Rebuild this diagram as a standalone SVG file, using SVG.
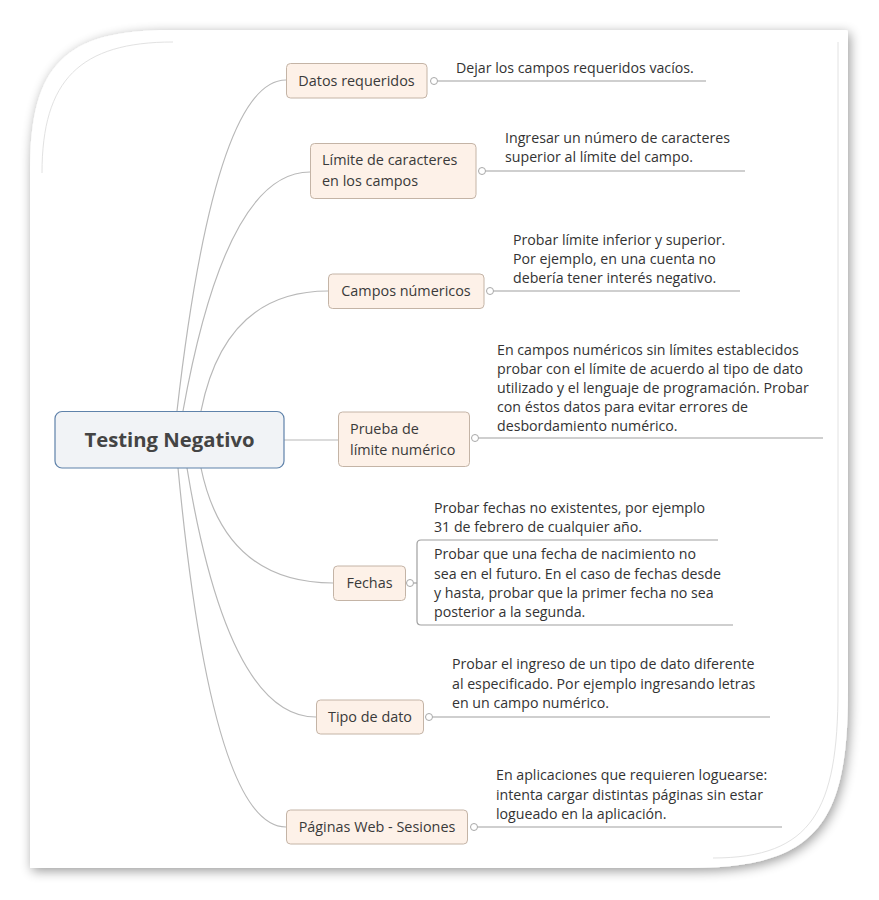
<svg xmlns="http://www.w3.org/2000/svg" width="879" height="900" viewBox="0 0 879 900">
<style>
.t{font-family:"Open Sans","Noto Sans","DejaVu Sans",sans-serif;font-size:14.2px;fill:#333}
.bt{font-family:"Open Sans","Noto Sans","DejaVu Sans",sans-serif;font-size:14.4px;fill:#3a3a3a}
.root{font-family:"Open Sans","Noto Sans","DejaVu Sans",sans-serif;font-size:20.3px;font-weight:bold;fill:#444}
.box{fill:#fdf1e8;stroke:#c4b4a6;stroke-width:1}
.curve{fill:none;stroke:#b8b8b8;stroke-width:1.2}
.uline{fill:none;stroke:#a0a0a0;stroke-width:1.2}
.dot{fill:#fff;stroke:#a8a8a8;stroke-width:1}
.inner{fill:none;stroke:#e2e2e2;stroke-width:1}
</style>
<defs>
<filter id="sh" x="-10%" y="-10%" width="120%" height="120%">
<feGaussianBlur in="SourceAlpha" stdDeviation="6"/>
<feOffset dx="2" dy="3" result="b"/>
<feComponentTransfer><feFuncA type="linear" slope="0.4"/></feComponentTransfer>
<feMerge><feMergeNode/><feMergeNode in="SourceGraphic"/></feMerge>
</filter>
</defs>
<rect width="879" height="900" fill="#fff"/>
<g id="frame">
<path d="M30,170 C30,65 65,30 170,30 L846,30 Q848,30 848,32 L848,690 C848,820 820,868 690,868 L30,868 Z" fill="#fff" filter="url(#sh)"/>
<path class="inner" d="M42,173 C42,80 80,42 173,42"/>
<path class="inner" d="M838,42 L838,690 C838,810 812,858 713,858"/>
</g>
<g id="connectors">
<path class="curve" d="M177,411 Q215,80 286,80"/>
<path class="curve" d="M183,411 Q226,172 310,172"/>
<path class="curve" d="M201,411 Q225,291 328,291"/>
<path class="curve" d="M284,440 L338,440"/>
<path class="curve" d="M201,468 Q225,583 333,583"/>
<path class="curve" d="M187,468 Q228,717 316,717"/>
<path class="curve" d="M178,468 Q212,827 286,827"/>
<path class="uline" d="M437.5,81 L706,81"/>
<path class="uline" d="M485.5,171 L745,171"/>
<path class="uline" d="M493.5,291 L740,291"/>
<path class="uline" d="M478.5,438 L823,438"/>
<path class="uline" d="M413.5,583 L417,583"/>
<path class="uline" d="M718,540 L421,540 Q417,540 417,544 L417,621 Q417,625 421,625 L733,625"/>
<path class="uline" d="M432.5,717 L770,717"/>
<path class="uline" d="M477.5,827 L782,827"/>
<circle class="dot" cx="434" cy="81" r="3.5"/>
<circle class="dot" cx="482" cy="171" r="3.5"/>
<circle class="dot" cx="490" cy="291" r="3.5"/>
<circle class="dot" cx="475" cy="438" r="3.5"/>
<circle class="dot" cx="410" cy="583" r="3.5"/>
<circle class="dot" cx="429" cy="717" r="3.5"/>
<circle class="dot" cx="474" cy="827" r="3.5"/>
</g>
<g id="root">
<rect x="55" y="411.5" width="229" height="56.5" rx="7" fill="#f1f3f6" stroke="#5f82aa" stroke-width="1.2"/>
<text class="root" x="169.5" y="447" text-anchor="middle">Testing Negativo</text>
</g>
<g id="n1">
<rect class="box" x="286.5" y="63.5" width="140.5" height="34.5" rx="4"/>
<text class="bt" x="356.5" y="86" text-anchor="middle">Datos requeridos</text>
</g>
<g id="d1">
<text class="t" x="456" y="73">Dejar los campos requeridos vacíos.</text>
</g>
<g id="n2">
<rect class="box" x="310.5" y="143.5" width="165.5" height="55" rx="4"/>
<text class="bt" x="322" y="165">Límite de caracteres</text>
<text class="bt" x="322" y="186">en los campos</text>
</g>
<g id="d2">
<text class="t" x="505" y="143">Ingresar un número de caracteres</text>
<text class="t" x="505" y="162">superior al límite del campo.</text>
</g>
<g id="n3">
<rect class="box" x="328.5" y="274" width="155.5" height="34.5" rx="4"/>
<text class="bt" x="406" y="296" text-anchor="middle">Campos númericos</text>
</g>
<g id="d3">
<text class="t" x="513" y="245">Probar límite inferior y superior.</text>
<text class="t" x="513" y="264">Por ejemplo, en una cuenta no</text>
<text class="t" x="513" y="283">debería tener interés negativo.</text>
</g>
<g id="n4">
<rect class="box" x="338.5" y="412" width="131" height="54.5" rx="4"/>
<text class="bt" x="350" y="434">Prueba de</text>
<text class="bt" x="350" y="455">límite numérico</text>
</g>
<g id="d4">
<text class="t" x="497" y="355">En campos numéricos sin límites establecidos</text>
<text class="t" x="497" y="374">probar con el límite de acuerdo al tipo de dato</text>
<text class="t" x="497" y="393">utilizado y el lenguaje de programación. Probar</text>
<text class="t" x="497" y="412">con éstos datos para evitar errores de</text>
<text class="t" x="497" y="431">desbordamiento numérico.</text>
</g>
<g id="n5">
<rect class="box" x="333.5" y="566" width="72" height="34.5" rx="4"/>
<text class="bt" x="369.5" y="588" text-anchor="middle">Fechas</text>
</g>
<g id="d5a">
<text class="t" x="434" y="513">Probar fechas no existentes, por ejemplo</text>
<text class="t" x="434" y="532">31 de febrero de cualquier año.</text>
</g>
<g id="d5b">
<text class="t" x="434" y="559">Probar que una fecha de nacimiento no</text>
<text class="t" x="434" y="579">sea en el futuro. En el caso de fechas desde</text>
<text class="t" x="434" y="598">y hasta, probar que la primer fecha no sea</text>
<text class="t" x="434" y="617">posterior a la segunda.</text>
</g>
<g id="n6">
<rect class="box" x="316.5" y="700" width="107" height="34" rx="4"/>
<text class="bt" x="370" y="722" text-anchor="middle">Tipo de dato</text>
</g>
<g id="d6">
<text class="t" x="452" y="669">Probar el ingreso de un tipo de dato diferente</text>
<text class="t" x="452" y="689">al especificado. Por ejemplo ingresando letras</text>
<text class="t" x="452" y="708">en un campo numérico.</text>
</g>
<g id="n7">
<rect class="box" x="286.5" y="810" width="181" height="34" rx="4"/>
<text class="bt" x="377" y="832" text-anchor="middle">Páginas Web - Sesiones</text>
</g>
<g id="d7">
<text class="t" x="496" y="780">En aplicaciones que requieren loguearse:</text>
<text class="t" x="496" y="800">intenta cargar distintas páginas sin estar</text>
<text class="t" x="496" y="819">logueado en la aplicación.</text>
</g>
</svg>
